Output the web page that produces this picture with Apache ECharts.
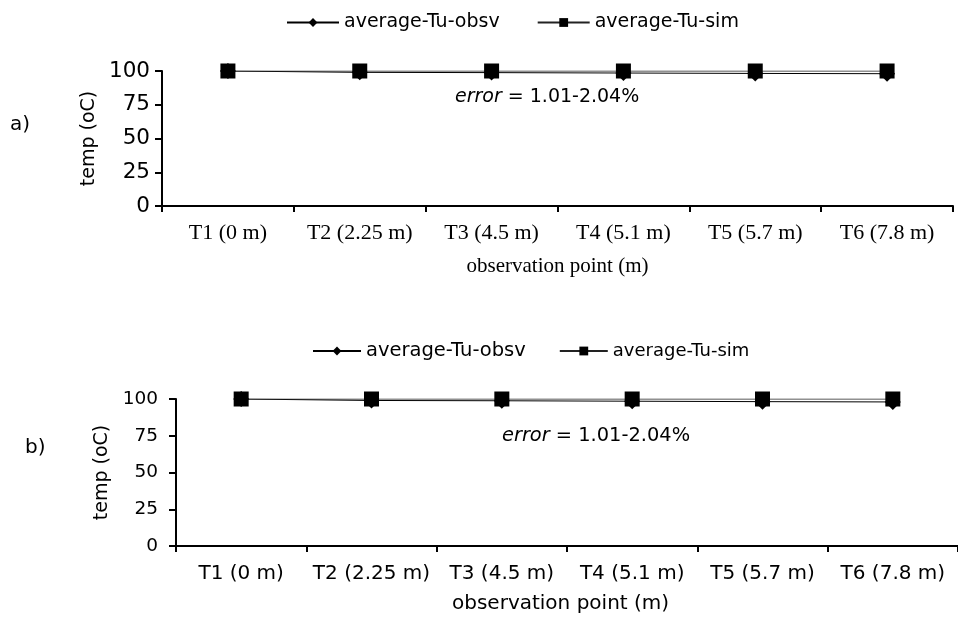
<!DOCTYPE html>
<html>
<head>
<meta charset="utf-8">
<script src="https://cdn.jsdelivr.net/npm/echarts@6/dist/echarts.min.js"></script>
<style>html,body{margin:0;padding:0;background:#fff}#c{width:958px;height:624px}</style>
</head>
<body>
<div id="c"></div>
<script>
const categories = ['T1 (0 m)', 'T2 (2.25 m)', 'T3 (4.5 m)', 'T4 (5.1 m)', 'T5 (5.7 m)', 'T6 (7.8 m)'];
const obsA = [100, 99.0, 98.8, 98.5, 98.2, 98.0];
const simA = [100, 100, 100, 100, 100, 100];
const obsB = [100, 99.0, 98.8, 98.5, 98.2, 98.0];
const simB = [100, 100, 100, 100, 100, 100];
const yTicks = [0, 25, 50, 75, 100];
const seriesNames = ['average-Tu-obsv', 'average-Tu-sim'];

const SANS = 'DejaVu Sans';
const SERIF = 'Liberation Serif';

function yAxis(gi, labelSize, margin, gap) {
  return {
    type: 'value', gridIndex: gi, min: yTicks[0], max: yTicks[yTicks.length - 1], interval: 25,
    name: 'temp (oC)', nameLocation: 'middle', nameGap: gap, nameRotate: 90,
    nameTextStyle: { fontFamily: SANS, fontSize: 19, color: '#000' },
    axisLine: { show: true, lineStyle: { color: '#000', width: 2 } },
    axisTick: { show: true, length: 7, lineStyle: { color: '#000', width: 2 } },
    axisLabel: { fontFamily: SANS, fontSize: labelSize, color: '#000', margin: margin },
    splitLine: { show: false }
  };
}
function xAxis(gi, font, size, margin, nameShow) {
  return {
    type: 'category', gridIndex: gi, data: categories, boundaryGap: true,
    name: nameShow ? 'observation point (m)' : '', nameLocation: 'middle', nameGap: 50,
    nameTextStyle: { fontFamily: SERIF, fontSize: 21, color: '#000' },
    axisLine: { show: true, lineStyle: { color: '#000', width: 2 } },
    axisTick: { show: true, length: 6, lineStyle: { color: '#000', width: 2 } },
    axisLabel: { fontFamily: font, fontSize: size, color: '#000', margin: margin, interval: 0 }
  };
}
function mk(name, data, gi, symbol, size, color, z) {
  return {
    name, type: 'line', xAxisIndex: gi, yAxisIndex: gi, data,
    symbol, symbolSize: size, showSymbol: true, z,
    lineStyle: { color, width: 1 }, itemStyle: { color: '#000', borderWidth: 0 },
    emphasis: { disabled: true }, animation: false
  };
}
function legend(left, top, w, gap, sa, sb) {
  return {
    left, top, data: seriesNames, itemWidth: w, itemHeight: 11, itemGap: gap,
    formatter: n => n === seriesNames[0] ? '{a|' + n + '}' : '{b|' + n + '}',
    textStyle: {
      fontFamily: SANS, color: '#000',
      rich: { a: { fontFamily: SANS, fontSize: sa, color: '#000' }, b: { fontFamily: SANS, fontSize: sb, color: '#000' } }
    }
  };
}
function errText(x, y, size) {
  return {
    type: 'text', left: x, top: y,
    style: {
      text: '{i|error}{n| = 1.01-2.04%}',
      fill: '#000',
      rich: {
        i: { fontStyle: 'italic', fontFamily: SANS, fontSize: size, fill: '#000' },
        n: { fontFamily: SANS, fontSize: size, fill: '#000' }
      }
    }
  };
}

const chart = echarts.init(document.getElementById('c'), null, { renderer: 'canvas' });
chart.setOption({
  animation: false,
  backgroundColor: '#fff',
  grid: [
    { left: 162, right: 5, top: 71, bottom: 418 },
    { left: 176, right: -6, top: 399, bottom: 78 }
  ],
  legend: [legend(281, 8, 52, 37, 19, 19), legend(307, 336, 48, 33, 19.5, 18)],
  xAxis: [xAxis(0, SERIF, 22, 16, true), xAxis(1, SANS, 20, 18, false)],
  yAxis: [yAxis(0, 21.5, 12, 59), yAxis(1, 18.5, 18, 60)],
  series: [
    mk(seriesNames[0], obsA, 0, 'diamond', 16, '#000', 2),
    mk(seriesNames[1], simA, 0, 'rect', 15, '#222', 3),
    mk(seriesNames[0], obsB, 1, 'diamond', 16, '#000', 2),
    mk(seriesNames[1], simB, 1, 'rect', 15, '#222', 3)
  ],
  graphic: [
    { type: 'text', left: 10, top: 115, style: { text: 'a)', font: '20px "DejaVu Sans"', fill: '#000' } },
    { type: 'text', left: 25, top: 438, style: { text: 'b)', font: '20px "DejaVu Sans"', fill: '#000' } },
    errText(455, 88, 19),
    errText(502, 426, 19.4),
    { type: 'text', left: 452, top: 594, style: { text: 'observation point (m)', font: '20px "DejaVu Sans"', fill: '#000' } }
  ]
});
</script>
</body>
</html>
